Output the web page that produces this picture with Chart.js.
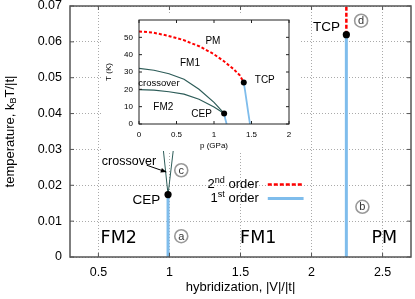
<!DOCTYPE html>
<html>
<head>
<meta charset="utf-8">
<script src="https://cdn.jsdelivr.net/npm/chart.js@4.4.0/dist/chart.umd.min.js"></script>
<style>
html, body { margin: 0; padding: 0; background: #fff; }
#wrap { position: relative; width: 415px; height: 299px; }
#main { position: absolute; left: 0; top: 0; }
#inset { position: absolute; left: 103px; top: 13px; background: #fff; }
</style>
</head>
<body>
<div id="wrap">
<canvas id="main" width="415" height="299"></canvas>
<canvas id="inset" width="198" height="138"></canvas>
</div>
<script>
const SANS = "'Liberation Sans', Arial, sans-serif";
const WIDE = "'DejaVu Sans', sans-serif";
const BLUE = "#7fbdec";
const RED = "#ff0000";
const TEAL = "#2d5c58";

// main panel: hybridization |V|/|t| vs temperature k_B T/|t|
const xTicks = [0.5, 1, 1.5, 2, 2.5];
const xTickLabels = ["0.5", "1", "1.5", "2", "2.5"];
const yTicks = [0, 0.01, 0.02, 0.03, 0.04, 0.05, 0.06, 0.07];
const yTickLabels = ["0", "0.01", "0.02", "0.03", "0.04", "0.05", "0.06", "0.07"];

const firstOrderCepV = [0.99, 0.99];
const firstOrderCepT = [0, 0.0174];
const firstOrderTcpV = [2.245, 2.245];
const firstOrderTcpT = [0, 0.062];
const secondOrderV = [2.245, 2.245];
const secondOrderT = [0.062, 0.07];
const crossLeftV = [0.99, 0.957];
const crossLeftT = [0.0174, 0.0298];
const crossRightV = [0.99, 1.027];
const crossRightT = [0.0174, 0.0298];
const criticalV = [0.99, 2.245];
const criticalT = [0.0174, 0.062];

// inset: pressure p (GPa) vs T (K)
const pTicks = [0, 0.5, 1, 1.5, 2];
const pTickLabels = ["0", "0.5", "1", "1.5", "2"];
const tTicks = [0, 10, 20, 30, 40, 50];
const tTickLabels = ["0", "10", "20", "30", "40", "50"];

const pmLineP = [0, 0.19, 0.37, 0.59, 0.81, 0.99, 1.12, 1.255, 1.344, 1.397];
const pmLineT = [53.4, 52.7, 51.1, 48.5, 44.7, 40.5, 36.6, 31.9, 28.1, 23.9];
const tcpLineP = [1.397, 1.415, 1.435, 1.455, 1.48];
const tcpLineT = [23.9, 19, 13, 7, 0];
const cepLineP = [1.135, 1.15, 1.168];
const cepLineT = [6.1, 3, 0];
const crossUpperP = [0, 0.2, 0.4, 0.6, 0.8, 1.0, 1.135];
const crossUpperT = [32.1, 31, 29, 25.8, 20, 12.5, 6.1];
const crossLowerP = [0, 0.2, 0.4, 0.6, 0.8, 1.0, 1.135];
const crossLowerT = [19.8, 19.5, 18.6, 17.2, 14.3, 9.8, 6.1];
const insetCriticalP = [1.135, 1.397];
const insetCriticalT = [6.1, 23.9];

function pairs(xs, ys) {
    return xs.map((x, i) => ({x: x, y: ys[i]}));
}

function lineSet(xs, ys, color, width, dash) {
    return {
        data: pairs(xs, ys),
        showLine: true,
        borderColor: color,
        borderWidth: width,
        borderDash: dash || [],
        pointRadius: 0,
        tension: 0,
    };
}

function dotSet(xs, ys, r) {
    return {
        data: pairs(xs, ys),
        showLine: false,
        pointRadius: r,
        pointBackgroundColor: "#000",
        pointBorderWidth: 0,
    };
}

function richWidth(ctx, parts, size, family) {
    let w = 0;
    parts.forEach(function (p) {
        ctx.font = (p.sub || p.sup ? size * 0.7 : size) + "px " + family;
        w += ctx.measureText(p.t).width;
    });
    return w;
}

function drawRich(ctx, parts, x, y, size, family, align, color) {
    let w = richWidth(ctx, parts, size, family);
    let cx = align === "right" ? x - w : align === "center" ? x - w / 2 : x;
    ctx.fillStyle = color || "#000";
    ctx.textAlign = "left";
    ctx.textBaseline = "middle";
    parts.forEach(function (p) {
        let s = p.sub || p.sup ? size * 0.7 : size;
        ctx.font = s + "px " + family;
        let dy = p.sub ? size * 0.3 : p.sup ? -size * 0.35 : 0;
        ctx.fillText(p.t, cx, y + dy);
        cx += ctx.measureText(p.t).width;
    });
}

const decorPlugin = {
    id: "decor",
    afterDatasetsDraw(chart, args, opts) {
        const ctx = chart.ctx;
        const a = chart.chartArea;
        const xs = chart.scales.x, ys = chart.scales.y;
        ctx.save();

        // frame + inward ticks on all four sides
        ctx.strokeStyle = opts.frameColor;
        ctx.lineWidth = opts.frameWidth;
        ctx.setLineDash([]);
        ctx.strokeRect(a.left, a.top, a.right - a.left, a.bottom - a.top);
        ctx.lineWidth = 1;
        ctx.beginPath();
        xs.ticks.forEach(function (t) {
            let px = xs.getPixelForValue(t.value);
            ctx.moveTo(px, a.bottom); ctx.lineTo(px, a.bottom - opts.tickLen);
            ctx.moveTo(px, a.top); ctx.lineTo(px, a.top + opts.tickLen);
        });
        ys.ticks.forEach(function (t) {
            let py = ys.getPixelForValue(t.value);
            ctx.moveTo(a.left, py); ctx.lineTo(a.left + opts.tickLen, py);
            ctx.moveTo(a.right, py); ctx.lineTo(a.right - opts.tickLen, py);
        });
        ctx.stroke();

        // arrows
        (opts.arrows || []).forEach(function (ar) {
            let x1 = xs.getPixelForValue(ar.x1), y1 = ys.getPixelForValue(ar.y1);
            let x2 = xs.getPixelForValue(ar.x2), y2 = ys.getPixelForValue(ar.y2);
            let ang = Math.atan2(y2 - y1, x2 - x1);
            ctx.strokeStyle = "#000";
            ctx.fillStyle = "#000";
            ctx.lineWidth = 1;
            ctx.beginPath();
            ctx.moveTo(x1, y1); ctx.lineTo(x2, y2);
            ctx.stroke();
            ctx.beginPath();
            ctx.moveTo(x2, y2);
            ctx.lineTo(x2 - 6 * Math.cos(ang - 0.4), y2 - 6 * Math.sin(ang - 0.4));
            ctx.lineTo(x2 - 6 * Math.cos(ang + 0.4), y2 - 6 * Math.sin(ang + 0.4));
            ctx.closePath();
            ctx.fill();
        });

        // circled letters
        (opts.circles || []).forEach(function (c) {
            let px = xs.getPixelForValue(c.x), py = ys.getPixelForValue(c.y);
            ctx.strokeStyle = "#999";
            ctx.lineWidth = 1.6;
            ctx.beginPath();
            ctx.arc(px, py, 6.5, 0, Math.PI * 2);
            ctx.stroke();
            ctx.fillStyle = "#333";
            ctx.font = "11px " + SANS;
            ctx.textAlign = "center";
            ctx.textBaseline = "middle";
            ctx.fillText(c.letter, px, py + 0.5);
        });

        // legend
        (opts.legend || []).forEach(function (l) {
            let y = ys.getPixelForValue(l.y);
            ctx.strokeStyle = l.color;
            ctx.lineWidth = l.width;
            ctx.setLineDash(l.dash);
            ctx.beginPath();
            ctx.moveTo(xs.getPixelForValue(l.x1), y);
            ctx.lineTo(xs.getPixelForValue(l.x2), y);
            ctx.stroke();
            ctx.setLineDash([]);
            drawRich(ctx, l.parts, xs.getPixelForValue(l.textX), y, l.size, SANS, "right");
        });

        // text labels
        (opts.texts || []).forEach(function (t) {
            drawRich(ctx, t.parts, xs.getPixelForValue(t.x), ys.getPixelForValue(t.y),
                t.size, t.family || SANS, "center");
        });

        // axis titles
        let xt = opts.xTitle;
        drawRich(ctx, xt.parts, (a.left + a.right) / 2, xt.y, xt.size, SANS, "center");
        let yt = opts.yTitle;
        ctx.translate(yt.x, (a.top + a.bottom) / 2);
        ctx.rotate(-Math.PI / 2);
        drawRich(ctx, yt.parts, 0, 0, yt.size, SANS, "center");
        ctx.restore();
    }
};

new Chart(document.getElementById("main"), {
    type: "scatter",
    data: {
        datasets: [
            dotSet(criticalV, criticalT, 3.6),
            lineSet(firstOrderCepV, firstOrderCepT, BLUE, 3),
            lineSet(firstOrderTcpV, firstOrderTcpT, BLUE, 3),
            lineSet(secondOrderV, secondOrderT, RED, 2.5, [4, 2]),
            lineSet(crossLeftV, crossLeftT, TEAL, 1),
            lineSet(crossRightV, crossRightT, TEAL, 1),
        ]
    },
    options: {
        responsive: false,
        animation: false,
        layout: {padding: {top: 6, right: 2, left: 0, bottom: 0}},
        scales: {
            x: {
                type: "linear",
                min: 0.3,
                max: 2.7,
                afterBuildTicks: function (s) { s.ticks = xTicks.map(v => ({value: v})); },
                afterFit: function (s) { s.height = 42; s.paddingLeft = 0; s.paddingRight = 0; },
                ticks: {
                    callback: (v, i) => xTickLabels[i],
                    font: {family: SANS, size: 12.5},
                    color: "#000",
                    padding: 8,
                    maxRotation: 0,
                    autoSkip: false,
                },
                grid: {color: "#aaa", lineWidth: 1, drawTicks: false},
                border: {display: false, dash: [1, 2]},
            },
            y: {
                type: "linear",
                min: 0,
                max: 0.07,
                afterBuildTicks: function (s) { s.ticks = yTicks.map(v => ({value: v})); },
                afterFit: function (s) { s.width = 70; s.paddingTop = 0; s.paddingBottom = 0; },
                ticks: {
                    callback: (v, i) => yTickLabels[i],
                    font: {family: SANS, size: 12.5},
                    color: "#000",
                    padding: 8,
                    autoSkip: false,
                },
                grid: {color: "#aaa", lineWidth: 1, drawTicks: false},
                border: {display: false, dash: [1, 2]},
            }
        },
        plugins: {
            legend: {display: false},
            tooltip: {enabled: false},
            decor: {
                frameColor: "#555",
                frameWidth: 1.5,
                tickLen: 4,
                arrows: [{x1: 0.84, y1: 0.0256, x2: 0.978, y2: 0.0237}],
                circles: [
                    {x: 1.083, y: 0.0058, letter: "a"},
                    {x: 2.358, y: 0.0140, letter: "b"},
                    {x: 1.083, y: 0.0242, letter: "c"},
                    {x: 2.349, y: 0.0659, letter: "d"},
                ],
                legend: [
                    {x1: 1.692, x2: 1.944, y: 0.0202, textX: 1.629, color: RED, width: 2.5, dash: [4, 2], size: 13,
                        parts: [{t: "2"}, {t: "nd", sup: true}, {t: " order"}]},
                    {x1: 1.692, x2: 1.944, y: 0.0163, textX: 1.629, color: BLUE, width: 3, dash: [], size: 13,
                        parts: [{t: "1"}, {t: "st", sup: true}, {t: " order"}]},
                ],
                texts: [
                    {x: 0.643, y: 0.0052, parts: [{t: "FM2"}], size: 17.5, family: WIDE},
                    {x: 1.625, y: 0.0052, parts: [{t: "FM1"}], size: 17.5, family: WIDE},
                    {x: 2.512, y: 0.0052, parts: [{t: "PM"}], size: 17.5, family: WIDE},
                    {x: 0.838, y: 0.0158, parts: [{t: "CEP"}], size: 13.5},
                    {x: 2.106, y: 0.0642, parts: [{t: "TCP"}], size: 13.5},
                    {x: 0.715, y: 0.0267, parts: [{t: "crossover"}], size: 12.5},
                ],
                xTitle: {y: 287, size: 13, parts: [{t: "hybridization, |V|/|t|"}]},
                yTitle: {x: 10, size: 13, parts: [{t: "temperature, k"}, {t: "B", sub: true}, {t: "T/|t|"}]},
            }
        }
    },
    plugins: [decorPlugin]
});

new Chart(document.getElementById("inset"), {
    type: "scatter",
    data: {
        datasets: [
            dotSet(insetCriticalP, insetCriticalT, 3),
            lineSet(pmLineP, pmLineT, RED, 2, [3, 2]),
            lineSet(tcpLineP, tcpLineT, BLUE, 1.8),
            lineSet(cepLineP, cepLineT, BLUE, 1.8),
            lineSet(crossUpperP, crossUpperT, TEAL, 1.2),
            lineSet(crossLowerP, crossLowerT, TEAL, 1.2),
        ]
    },
    options: {
        responsive: false,
        animation: false,
        layout: {padding: {top: 7, right: 12, left: 0, bottom: 0}},
        scales: {
            x: {
                type: "linear",
                min: 0,
                max: 2,
                afterBuildTicks: function (s) { s.ticks = pTicks.map(v => ({value: v})); },
                afterFit: function (s) { s.height = 27; s.paddingLeft = 0; s.paddingRight = 0; },
                ticks: {
                    callback: (v, i) => pTickLabels[i],
                    font: {family: SANS, size: 8},
                    color: "#000",
                    padding: 6,
                    maxRotation: 0,
                    autoSkip: false,
                },
                grid: {display: false, drawTicks: false},
                border: {display: false},
            },
            y: {
                type: "linear",
                min: 0,
                max: 60,
                afterBuildTicks: function (s) { s.ticks = tTicks.map(v => ({value: v})); },
                afterFit: function (s) { s.width = 36; s.paddingTop = 0; s.paddingBottom = 0; },
                ticks: {
                    callback: (v, i) => tTickLabels[i],
                    font: {family: SANS, size: 8},
                    color: "#000",
                    padding: 6,
                    autoSkip: false,
                },
                grid: {display: false, drawTicks: false},
                border: {display: false},
            }
        },
        plugins: {
            legend: {display: false},
            tooltip: {enabled: false},
            decor: {
                frameColor: "#222",
                frameWidth: 1,
                tickLen: 3,
                texts: [
                    {x: 0.985, y: 48, parts: [{t: "PM"}], size: 10},
                    {x: 0.68, y: 34.9, parts: [{t: "FM1"}], size: 10},
                    {x: 0.266, y: 23.4, parts: [{t: "crossover"}], size: 9.5},
                    {x: 0.324, y: 9.9, parts: [{t: "FM2"}], size: 10},
                    {x: 0.834, y: 5.7, parts: [{t: "CEP"}], size: 10},
                    {x: 1.677, y: 25.1, parts: [{t: "TCP"}], size: 10},
                ],
                xTitle: {y: 133, size: 8, parts: [{t: "p (GPa)"}]},
                yTitle: {x: 6, size: 8, parts: [{t: "T (K)"}]},
            }
        }
    },
    plugins: [decorPlugin]
});
</script>
</body>
</html>
